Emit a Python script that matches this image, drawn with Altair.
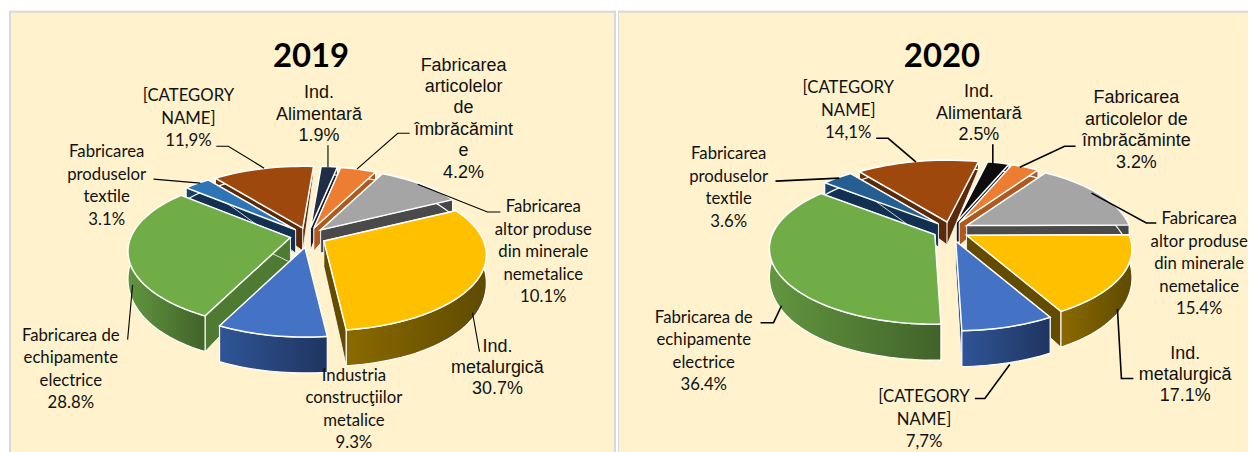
import math
import altair as alt

values_2019 = [1.9, 4.2, 10.1, 30.7, 9.3, 28.8, 3.1, 11.9]
values_2020 = [2.5, 3.2, 15.4, 17.1, 7.7, 36.4, 3.6, 14.1]
labels_2019 = [
    "Ind.\nAlimentară\n1.9%",
    "Fabricarea\narticolelor\nde\nîmbrăcămint\ne\n4.2%",
    "Fabricarea\naltor produse\ndin minerale\nnemetalice\n10.1%",
    "Ind.\nmetalurgică\n30.7%",
    "Industria\nconstrucţiilor\nmetalice\n9.3%",
    "Fabricarea de\nechipamente\nelectrice\n28.8%",
    "Fabricarea\nproduselor\ntextile\n3.1%",
    "[CATEGORY\nNAME]\n11,9%",
]
labels_2020 = [
    "Ind.\nAlimentară\n2.5%",
    "Fabricarea\narticolelor de\nîmbrăcăminte\n3.2%",
    "Fabricarea\naltor produse\ndin minerale\nnemetalice\n15.4%",
    "Ind.\nmetalurgică\n17.1%",
    "[CATEGORY\nNAME]\n7,7%",
    "Fabricarea de\nechipamente\nelectrice\n36.4%",
    "Fabricarea\nproduselor\ntextile\n3.6%",
    "[CATEGORY\nNAME]\n14,1%",
]
arial_labels = [True, True, False, True, False, False, False, False]

# layout (page pixels): label anchor = centre x, first baseline y
anchors_2019 = [(319, 97), (464, 69), (544, 211), (498, 351), (354, 380), (70, 340), (106, 156), (188, 100)]
anchors_2020 = [(979, 96), (1137, 102), (1200, 223), (1186, 358), (924, 402), (703, 322), (728, 158), (848, 92)]
leaders_2019 = [
    [(328, 144), (328, 166)],
    [(410, 132), (398, 132), (357, 168)],
    [(501, 211), (488, 211), (418, 183)],
    [(480, 351), (473, 312)],
    [],
    [(127, 339), (132, 284)],
    [(153, 178), (200, 182)],
    [(216, 145), (228, 145), (264, 167)],
]
leaders_2020 = [
    [(993, 143), (993, 162)],
    [(1076, 145), (1065, 145), (1020, 166)],
    [(1157, 222), (1147, 222), (1092, 192)],
    [(1134, 378), (1122, 378), (1118, 308)],
    [(975, 398), (985, 398), (1010, 364)],
    [(760, 322), (773, 322), (781, 305)],
    [(775, 180), (839, 177)],
    [(876, 137), (888, 137), (916, 161)],
]

top_2019 = ["#1f2d45", "#ed7d31", "#a5a5a5", "#ffc000", "#4472c4", "#70ad47", "#2e75b6", "#9e480e"]
top_2020 = ["#0d0d0d", "#ed7d31", "#a5a5a5", "#ffc000", "#4472c4", "#70ad47", "#255e91", "#9e480e"]
wall_cols = ["#141d2e", "#b0591f", "#4a4a4a", "#634c00", "#1f3864", "#4e7a31", "#12304f", "#5c2a08"]
wall_left = ["#1c2839", "#b8602a", "#555555", "#8a6a00", "#2f5597", "#62963f", "#1c4469", "#6a3209"]
wall_right = ["#141d2e", "#a8541c", "#444444", "#5f4a00", "#1f3560", "#41632a", "#12304f", "#5c2a08"]

PAINT_ORDER = [0, 1, 7, 6, 2, 5, 3, 4]
CREAM = "#fff2cc"
BORDER = "#d9d9d9"
TOP_Y = 9
BOTTOM_Y = 452


def warp(phi):
    """True angle -> ellipse parameter under the picture's perspective."""
    p = math.radians(phi % 360)
    half = p / 2
    if abs(math.cos(half)) < 1e-6:
        return phi
    t = 2 * math.atan(0.84 * math.tan(half))
    return (math.degrees(t) % 360) + (phi - phi % 360)


def unwrap(a0, a1):
    t0, t1 = warp(a0), warp(a1)
    while t1 < t0:
        t1 += 360
    return t0, t1


def pie_layers(values, tops, cx, cy, rx, ry, start, x0):
    proj = dict(type="identity", scale=1, translate=[0, 0])

    def poly(points):
        ring = [[round(x - x0, 2), round(y - TOP_Y, 2)] for x, y in points]
        ring.append(ring[0])
        return {"type": "Feature", "properties": {}, "geometry": {"type": "Polygon", "coordinates": [ring]}}

    def depth(y):
        u = max(0.0, min(1.0, (cy + 88 - y) / 148))
        return 36 - 28 * u ** 1.7

    down = lambda p: (p[0], p[1] + depth(p[1]))
    layers = []
    cum = []
    c = 0.0
    for v in values:
        cum.append(c)
        c += v
    for i in PAINT_ORDER:
        a0 = start + cum[i] * 3.6
        a1 = a0 + values[i] * 3.6
        mid = math.radians((a0 + a1) / 2)
        ax = cx + 18 * math.sin(mid)
        ky = 0.4 if math.cos(mid) > 0 else 0.7
        ay = cy - 18 * ky * math.cos(mid)
        t0, t1 = unwrap(a0, a1)
        n = max(4, int((t1 - t0) / 2))
        arc = []
        for j in range(n + 1):
            t = math.radians(t0 + (t1 - t0) * j / n)
            arc.append((ax + rx * math.sin(t), ay + 14 - ry * math.cos(t)))
        apex = (ax, ay)
        radial = [
            poly([apex, arc[0], down(arc[0]), down(apex)]),
            poly([apex, arc[-1], down(arc[-1]), down(apex)]),
        ]
        outer = poly(arc + [down(p) for p in reversed(arc)])
        top = poly([apex] + arc)
        grad = alt.Gradient(
            gradient="linear", x1=0, x2=1, y1=0, y2=0,
            stops=[alt.GradientStop(color=wall_left[i], offset=0),
                   alt.GradientStop(color=wall_right[i], offset=1)],
        )
        layers.append(alt.Chart(alt.InlineData(values=radial)).mark_geoshape(
            fill=wall_cols[i], stroke="white", strokeWidth=0.8).project(**proj))
        layers.append(alt.Chart(alt.InlineData(values=[outer])).mark_geoshape(
            fill=grad, stroke="white", strokeWidth=1.2).project(**proj))
        layers.append(alt.Chart(alt.InlineData(values=[top])).mark_geoshape(
            fill=tops[i], stroke="white", strokeWidth=1.5).project(**proj))
    return layers


def panel(year, title_x, x0, width, values, tops, labels, anchors, leaders, cx, cy, rx, ry, start, lw, edges):
    xs = alt.Scale(domain=[x0, x0 + width], nice=False, zero=False)
    ys = alt.Scale(domain=[BOTTOM_Y, TOP_Y], nice=False, zero=False)
    X = lambda f: alt.X(f, type="quantitative", scale=xs, axis=None)
    Y = lambda f: alt.Y(f, type="quantitative", scale=ys, axis=None)

    layers = pie_layers(values, tops, cx, cy, rx, ry, start, x0)

    # panel border: top edge and vertical edges
    layers.append(alt.Chart(alt.Data(values=[{"x": x0, "x2": x0 + width, "y": TOP_Y + 1}])).mark_rule(
        color=BORDER, strokeWidth=2).encode(x=X("x"), x2="x2:Q", y=Y("y")))
    for ex, ew in edges:
        layers.append(alt.Chart(alt.Data(values=[{"x": ex, "y": TOP_Y, "y2": BOTTOM_Y}])).mark_rule(
            color=BORDER, strokeWidth=ew).encode(x=X("x"), y=Y("y"), y2="y2:Q"))

    rows = []
    for k, pts in enumerate(leaders):
        for o, (x, y) in enumerate(pts):
            rows.append({"x": x, "y": y, "k": k, "o": o})
    layers.append(alt.Chart(alt.Data(values=rows)).mark_line(color="black", strokeWidth=lw).encode(
        x=X("x"), y=Y("y"), detail="k:N", order="o:Q"))

    arial = [{"t": l, "x": a[0], "y": a[1]} for l, a, f in zip(labels, anchors, arial_labels) if f]
    lato = [{"t": l, "x": a[0], "y": a[1]} for l, a, f in zip(labels, anchors, arial_labels) if not f]
    layers.append(alt.Chart(alt.Data(values=arial)).mark_text(
        font="Liberation Sans", fontSize=18, lineHeight=21.5, lineBreak="\n", align="center",
        baseline="alphabetic", color="#111111").encode(x=X("x"), y=Y("y"), text="t:N"))
    layers.append(alt.Chart(alt.Data(values=lato)).mark_text(
        font="Lato", fontSize=16.8, lineHeight=22.6, lineBreak="\n", align="center",
        baseline="alphabetic", color="#111111").encode(x=X("x"), y=Y("y"), text="t:N"))
    layers.append(alt.Chart(alt.Data(values=[{"t": year, "x": title_x, "y": 65}])).mark_text(
        font="Lato", fontSize=33, fontWeight="bold", align="center", baseline="alphabetic",
        color="black").encode(x=X("x"), y=Y("y"), text="t:N"))
    return alt.layer(*layers).properties(width=width, height=BOTTOM_Y - TOP_Y)


left = panel("2019", 311, 8, 609, values_2019, top_2019, labels_2019, anchors_2019, leaders_2019,
             308, 234, 163, 76, 4.5, 1.1, [(9, 2), (616, 2)])
right = panel("2020", 942, 617, 632, values_2020, top_2020, labels_2020, anchors_2020, leaders_2020,
              951, 228, 166, 76, 13, 1.6, [(617.5, 1)])

chart = alt.hconcat(left, right, spacing=0).properties(
    padding={"left": 0, "top": 1, "right": 0, "bottom": 0}
).configure_view(fill=CREAM, stroke=None).resolve_scale(x="independent", y="independent")

chart.save("out.html", embed_options={"renderer": "svg", "actions": False})
